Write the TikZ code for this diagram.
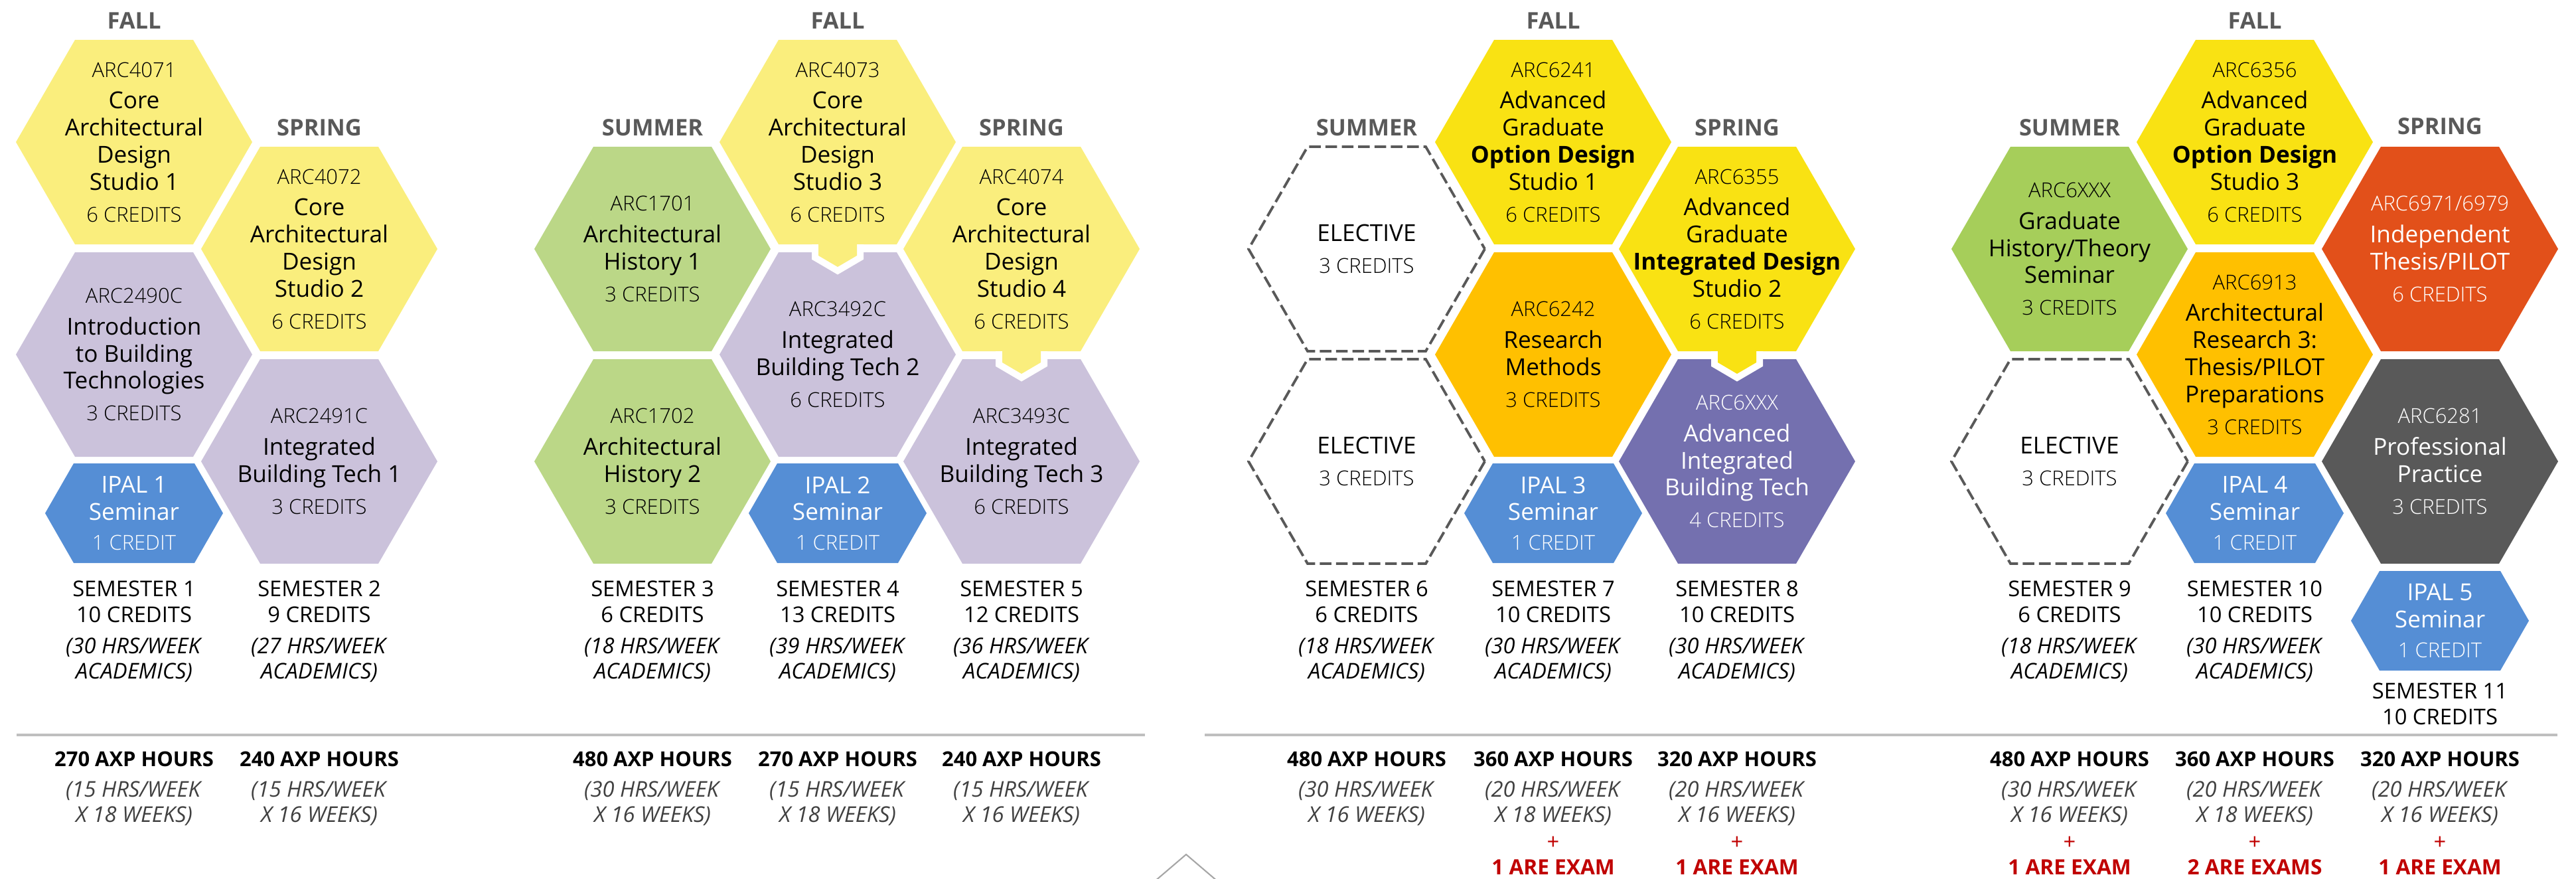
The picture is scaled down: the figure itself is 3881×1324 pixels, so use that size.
\documentclass[tikz,border=0pt]{standalone}
\usepackage{fontspec}
\setmainfont{Open Sans}
\IfFontExistsTF{Open Sans Light}
  {\newfontfamily\lightfont{Open Sans Light}}
  {\newfontfamily\lightfont{Open Sans}}

\definecolor{paleyellow}{HTML}{FAEE7D}
\definecolor{lavender}{HTML}{CBC2DB}
\definecolor{ipalblue}{HTML}{558ED5}
\definecolor{palegreen}{HTML}{BBD787}
\definecolor{brightyellow}{HTML}{F9E213}
\definecolor{amber}{HTML}{FFC000}
\definecolor{techpurple}{HTML}{7470AF}
\definecolor{histgreen}{HTML}{A6CE5A}
\definecolor{thesisred}{HTML}{E2501A}
\definecolor{practicegray}{HTML}{595959}
\definecolor{seasongray}{HTML}{595959}
\definecolor{axpgray}{HTML}{404040}
\definecolor{rulegray}{HTML}{BFBFBF}
\definecolor{caretgray}{HTML}{A6A6A6}
\definecolor{examred}{HTML}{C00000}

\newcommand{\hexcode}[1]{{\lightfont\fontsize{8.8}{10}\selectfont #1}}

\begin{document}
\begin{tikzpicture}[x=0.01cm, y=-0.01cm,
    hextext/.style={align=center, inner sep=0pt, font=\fontsize{10}{11.6}\selectfont},
    season/.style={inner sep=0pt, text=seasongray, font=\bfseries\fontsize{9.8}{12}\selectfont},
    semtext/.style={align=center, anchor=north, inner sep=0pt, font=\fontsize{9.3}{11}\selectfont},
    axptext/.style={align=center, anchor=north, inner sep=0pt, font=\fontsize{9.3}{10.8}\selectfont},
    elective/.style={draw=seasongray, line width=1.1pt, dash pattern=on 5pt off 2pt, line join=miter},
    axprule/.style={draw=rulegray, line width=1.4pt}]
  \useasboundingbox (0,0) rectangle (3881,1324);

  % Course hexagons, one tile per course
  \foreach \cx/\cy/\clr/\tclr/\nm/\txt in {
    202/214/paleyellow/black/ads1/{\hexcode{ARC4071}\\[2pt]Core\\Architectural\\Design\\Studio 1\\[2pt]\hexcode{6 CREDITS}},
    481/375/paleyellow/black/ads2/{\hexcode{ARC4072}\\[2pt]Core\\Architectural\\Design\\Studio 2\\[2pt]\hexcode{6 CREDITS}},
    202/534/lavender/black/ibt0/{\hexcode{ARC2490C}\\[2pt]Introduction\\to Building\\Technologies\\[2pt]\hexcode{3 CREDITS}},
    481/695/lavender/black/ibt1/{\hexcode{ARC2491C}\\[2pt]Integrated\\Building Tech 1\\[2pt]\hexcode{3 CREDITS}},
    983/375/palegreen/black/ah1/{\hexcode{ARC1701}\\[2pt]Architectural\\History 1\\[2pt]\hexcode{3 CREDITS}},
    983/695/palegreen/black/ah2/{\hexcode{ARC1702}\\[2pt]Architectural\\History 2\\[2pt]\hexcode{3 CREDITS}},
    1262/214/paleyellow/black/ads3/{\hexcode{ARC4073}\\[2pt]Core\\Architectural\\Design\\Studio 3\\[2pt]\hexcode{6 CREDITS}},
    1262/534/lavender/black/ibt2/{\hexcode{ARC3492C}\\[2pt]Integrated\\Building Tech 2\\[2pt]\hexcode{6 CREDITS}},
    1539/375/paleyellow/black/ads4/{\hexcode{ARC4074}\\[2pt]Core\\Architectural\\Design\\Studio 4\\[2pt]\hexcode{6 CREDITS}},
    1539/695/lavender/black/ibt3/{\hexcode{ARC3493C}\\[2pt]Integrated\\Building Tech 3\\[2pt]\hexcode{6 CREDITS}},
    2340/214/brightyellow/black/ags1/{\hexcode{ARC6241}\\[2pt]Advanced\\Graduate\\\textbf{Option Design}\\Studio 1\\[2pt]\hexcode{6 CREDITS}},
    2340/534/amber/black/resm/{\hexcode{ARC6242}\\[2pt]Research\\Methods\\[2pt]\hexcode{3 CREDITS}},
    2617/375/brightyellow/black/ags2/{\hexcode{ARC6355}\\[2pt]Advanced\\Graduate\\\textbf{Integrated Design}\\Studio 2\\[2pt]\hexcode{6 CREDITS}},
    2617/695/techpurple/white/aibt/{\hexcode{ARC6XXX}\\[2pt]Advanced\\Integrated\\Building Tech\\[2pt]\hexcode{4 CREDITS}},
    3118/375/histgreen/black/ghts/{\hexcode{ARC6XXX}\\[2pt]Graduate\\History/Theory\\Seminar\\[2pt]\hexcode{3 CREDITS}},
    3397/214/brightyellow/black/ags3/{\hexcode{ARC6356}\\[2pt]Advanced\\Graduate\\\textbf{Option Design}\\Studio 3\\[2pt]\hexcode{6 CREDITS}},
    3397/534/amber/black/arch3/{\hexcode{ARC6913}\\[2pt]Architectural\\Research 3:\\Thesis/PILOT\\Preparations\\[2pt]\hexcode{3 CREDITS}},
    3676/375/thesisred/white/thesis/{\hexcode{ARC6971/6979}\\[2pt]Independent\\Thesis/PILOT\\[2pt]\hexcode{6 CREDITS}},
    3676/695/practicegray/white/propr/{\hexcode{ARC6281}\\[2pt]Professional\\Practice\\[2pt]\hexcode{3 CREDITS}}} {
    \fill [\clr, shift={(\cx,\cy)}] (178,0) -- (89,154) -- (-89,154) -- (-178,0) -- (-89,-154) -- (89,-154) -- cycle;
    \node [hextext, text=\tclr] (\nm) at (\cx,\cy) {\txt};
  }

  % Studio tabs pointing into the tile below
  \foreach \cx/\cy/\clr in {1262/214/paleyellow, 1539/375/paleyellow, 2617/375/brightyellow} {
    \draw [white, line width=0.2cm, line join=miter, shift={(\cx,\cy)}]
      (-29,154) -- (-29,171) -- (0,188) -- (29,171) -- (29,154);
    \fill [\clr, shift={(\cx,\cy)}] (-29,150) -- (-29,171) -- (0,188) -- (29,171) -- (29,150) -- cycle;
  }

  % Open elective slots
  \foreach \cx/\cy/\nm in {2059/375/elec1, 2059/695/elec2, 3118/695/elec3} {
    \draw [elective, shift={(\cx,\cy)}] (178,0) -- (89,154) -- (-89,154) -- (-178,0) -- (-89,-154) -- (89,-154) -- cycle;
    \node [hextext] (\nm) at (\cx,\cy) {ELECTIVE\\[2pt]\hexcode{3 CREDITS}};
  }

  % IPAL seminars, flatter tiles
  \foreach \cx/\cy/\n in {202/773/1, 1262/773/2, 2340/773/3, 3397/773/4, 3676/935/5} {
    \fill [ipalblue, shift={(\cx,\cy)}] (134,0) -- (91,75) -- (-91,75) -- (-134,0) -- (-91,-75) -- (91,-75) -- cycle;
    \node [hextext, text=white] (ipal\n) at (\cx,\cy) {IPAL \n\\Seminar\\[1pt]\hexcode{1 CREDIT}};
  }

  % Term headings
  \foreach \cx/\cy/\lab/\nm in {
    202/31/FALL/fallA, 481/192/SPRING/springA,
    983/192/SUMMER/summerB, 1262/31/FALL/fallB, 1539/192/SPRING/springB,
    2059/192/SUMMER/summerC, 2340/31/FALL/fallC, 2617/192/SPRING/springC,
    3118/192/SUMMER/summerD, 3397/31/FALL/fallD, 3676/190/SPRING/springD} {
    \node [season] (\nm) at (\cx,\cy) {\lab};
  }

  % Semester totals under the tiles
  \foreach \cx/\s/\crd/\hrs in {
    202/1/10/30, 481/2/9/27, 983/3/6/18, 1262/4/13/39, 1539/5/12/36,
    2059/6/6/18, 2340/7/10/30, 2617/8/10/30, 3118/9/6/18, 3397/10/10/30} {
    \node [semtext] (sem\s) at (\cx,874)
      {SEMESTER \s\\\crd{} CREDITS\\[2.4pt]\textit{(\hrs{} HRS/WEEK}\\\textit{ACADEMICS)}};
  }
  \node [semtext] (sem11) at (3676,1028) {SEMESTER 11\\10 CREDITS};

  % The rule between credits and AXP hours
  \draw [axprule] (25,1107) -- (1725,1107);
  \draw [axprule] (1815,1107) -- (3853,1107);
  \draw [caretgray, line width=0.6pt] (1739,1328) -- (1787,1287) -- (1835,1328);

  % AXP hours per semester
  \foreach \cx/\axp/\hw/\wk/\nm in {
    202/270/15/18/axp1, 481/240/15/16/axp2, 983/480/30/16/axp3,
    1262/270/15/18/axp4, 1539/240/15/16/axp5, 2059/480/30/16/axp6} {
    \node [axptext] (\nm) at (\cx,1131)
      {{\bfseries\fontsize{8.8}{10.8}\selectfont \axp{} AXP HOURS}\\[2.4pt]\textcolor{axpgray}{\textit{(\hw{} HRS/WEEK}}\\\textcolor{axpgray}{\textit{X \wk{} WEEKS)}}};
  }
  \foreach \cx/\axp/\hw/\wk/\ex/\nm in {
    2340/360/20/18/1 ARE EXAM/axp7, 2617/320/20/16/1 ARE EXAM/axp8,
    3118/480/30/16/1 ARE EXAM/axp9, 3397/360/20/18/2 ARE EXAMS/axp10,
    3676/320/20/16/1 ARE EXAM/axp11} {
    \node [axptext] (\nm) at (\cx,1131)
      {{\bfseries\fontsize{8.8}{10.8}\selectfont \axp{} AXP HOURS}\\[2.4pt]\textcolor{axpgray}{\textit{(\hw{} HRS/WEEK}}\\\textcolor{axpgray}{\textit{X \wk{} WEEKS)}}\\[0.8pt]\textcolor{examred}{+}\\\textcolor{examred}{\bfseries\fontsize{9}{10.8}\selectfont \ex}};
  }
\end{tikzpicture}
\end{document}
